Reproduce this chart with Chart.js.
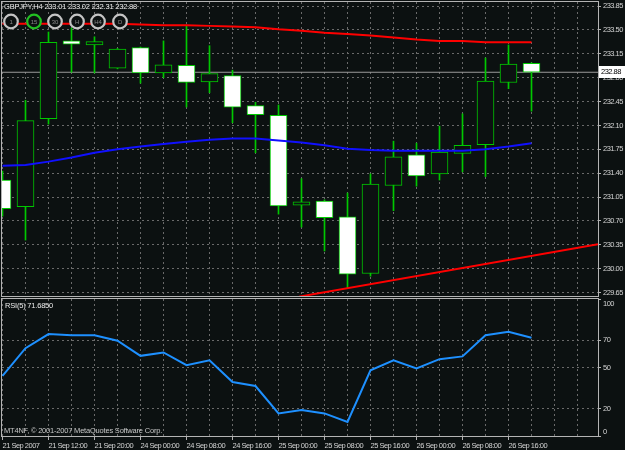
<!DOCTYPE html>
<html>
<head>
<meta charset="utf-8">
<title>GBPJPY,H4</title>
<script src="https://cdn.jsdelivr.net/npm/chart.js@4.4.1/dist/chart.umd.min.js"></script>
<style>
  body { margin: 0; background: #0c1111; width: 625px; height: 450px; overflow: hidden; position: relative; }
  canvas { position: absolute; left: 0; }
  #main { top: 0; }
  #rsi { top: 298px; }
</style>
</head>
<body>
<canvas id="main" width="625" height="298"></canvas>
<canvas id="rsi" width="625" height="152"></canvas>
<script>
const symbol = "GBPJPY,H4";

// H4 candles
const opens  = [231.30, 230.91, 232.20, 233.34, 233.28, 232.94, 233.24, 232.87, 232.98, 232.74, 232.83, 232.39,
                232.25, 230.93, 230.99, 230.76, 229.93, 231.22, 231.67, 231.39, 231.69, 231.82, 232.73, 233.01];
const highs  = [231.43, 232.47, 233.47, 233.53, 233.40, 233.23, 233.25, 233.34, 233.57, 233.27, 232.91, 232.44,
                232.40, 231.32, 231.01, 231.11, 231.39, 231.87, 231.84, 232.09, 232.27, 233.09, 233.28, 233.02];
const lows   = [230.77, 230.42, 232.12, 232.88, 232.87, 232.93, 232.72, 232.80, 232.37, 232.58, 232.14, 231.70,
                230.80, 230.61, 230.26, 229.72, 229.89, 230.85, 231.21, 231.30, 231.42, 231.35, 232.64, 232.31];
const closes = [230.88, 232.17, 233.32, 233.29, 233.33, 233.22, 232.87, 232.99, 232.73, 232.86, 232.37, 232.26,
                230.92, 230.98, 230.75, 229.92, 231.24, 231.64, 231.36, 231.71, 231.81, 232.75, 233.00, 232.88];

// moving averages
const maSlow = [233.59, 233.59, 233.59, 233.59, 233.59, 233.59, 233.58, 233.57, 233.57, 233.56, 233.55, 233.54,
                233.51, 233.49, 233.46, 233.44, 233.42, 233.39, 233.36, 233.34, 233.34, 233.32, 233.32, 233.32];
const maFast = [231.51, 231.52, 231.57, 231.63, 231.70, 231.75, 231.79, 231.83, 231.86, 231.89, 231.91, 231.91,
                231.88, 231.85, 231.81, 231.76, 231.74, 231.73, 231.73, 231.73, 231.73, 231.75, 231.79, 231.84];

// trend line (bar index, price)
const trendX = [12.89, 25.89];
const trendY = [229.59, 230.36];

const rsiValues = [43.9, 64.1, 74.4, 73.6, 73.6, 69.5, 58.5, 61.0, 51.7, 55.3, 39.4, 36.5,
                   16.5, 19.0, 16.5, 10.2, 48.0, 55.3, 49.3, 56.1, 58.1, 73.6, 76.1, 71.685];

const priceTicks = [229.65, 230.00, 230.35, 230.70, 231.05, 231.40, 231.75, 232.10, 232.45, 232.80, 233.15, 233.50, 233.85];
const rsiTicks = [0, 20, 50, 70, 100];
const timeLabels = ["21 Sep 2007", "21 Sep 12:00", "21 Sep 20:00", "24 Sep 00:00", "24 Sep 08:00", "24 Sep 16:00",
                    "25 Sep 00:00", "25 Sep 08:00", "25 Sep 16:00", "26 Sep 00:00", "26 Sep 08:00", "26 Sep 16:00"];
const periods = ["1", "15", "30", "H", "H4", "D"];

const BG = "#0c1111";
const GREEN = "#00c800";
const GRID = "#6a6a6a";
const FRAME = "#b4b4b4";
const TEXT = "#d4d4d4";
const FONT = "'Liberation Sans', Arial, sans-serif";
const X_MIN = -0.5 / 23;
const X_MAX = 595.5 / 23;

Chart.defaults.font.family = FONT;
Chart.defaults.font.size = 7.5;
Chart.defaults.color = TEXT;
Chart.defaults.animation = false;

const idx = opens.map((_, i) => i);
const last = opens.length - 1;
const gridIdx = idx.concat([24, 25]);

function frame(chart) {
  const a = chart.chartArea, ctx = chart.ctx;
  ctx.save();
  ctx.strokeStyle = FRAME;
  ctx.lineWidth = 1;
  ctx.strokeRect(a.left - 0.5, a.top - 0.5, a.right - a.left + 1, a.bottom - a.top + 1);
  ctx.restore();
}

// no extra room for labels hanging past the plot edges
function noPad(s) {
  s.paddingTop = 0;
  s.paddingBottom = 0;
  s.paddingLeft = 0;
  s.paddingRight = 0;
}

// MT4 text is tight, pull letters closer
const tightText = {
  id: "tightText",
  beforeDraw(chart) { chart.ctx.letterSpacing = "-0.5px"; }
};

const xScale = (showLabels) => ({
  type: "linear",
  min: X_MIN,
  max: X_MAX,
  offset: false,
  afterBuildTicks: s => { s.ticks = gridIdx.map(v => ({ value: v })); },
  ticks: {
    display: showLabels,
    autoSkip: false,
    maxRotation: 0,
    align: "start",
    padding: 1,
    color: TEXT,
    callback: v => (v % 2 === 0 && timeLabels[v / 2]) ? timeLabels[v / 2] : ""
  },
  grid: {
    offset: false,
    color: GRID,
    drawTicks: showLabels,
    tickLength: 4,
    tickColor: c => (c.tick && c.tick.value % 2 === 0 && timeLabels[c.tick.value / 2]) ? FRAME : "rgba(0,0,0,0)"
  },
  border: { display: false, dash: [2, 3] },
  afterFit: s => { s.height = showLabels ? 14 : 0; noPad(s); }
});

// main price chart
new Chart(document.getElementById("main"), {
  type: "bar",
  data: {
    datasets: [
      {
        label: "body",
        data: idx.map(i => ({ x: i, y: [opens[i], closes[i]] })),
        barThickness: 17,
        grouped: false,
        backgroundColor: idx.map(i => closes[i] < opens[i] ? "#ffffff" : BG),
        borderColor: GREEN,
        borderWidth: 1,
        borderSkipped: false,
        order: 1
      },
      {
        label: "wick",
        data: idx.map(i => ({ x: i, y: [lows[i], highs[i]] })),
        barThickness: 1,
        grouped: false,
        backgroundColor: GREEN,
        borderWidth: 0,
        order: 2
      },
      {
        type: "line",
        label: "MA slow",
        data: idx.map(i => ({ x: i, y: maSlow[i] })),
        borderColor: "#ff0000",
        borderWidth: 2,
        pointRadius: 0,
        order: 0
      },
      {
        type: "line",
        label: "MA fast",
        data: idx.map(i => ({ x: i, y: maFast[i] })),
        borderColor: "#1010ff",
        borderWidth: 2,
        pointRadius: 0,
        order: 0
      },
      {
        type: "line",
        label: "trend",
        data: trendX.map((x, k) => ({ x: x, y: trendY[k] })),
        borderColor: "#ff0000",
        borderWidth: 2,
        pointRadius: 0,
        order: 0
      },
      {
        type: "line",
        label: "bid",
        data: [{ x: X_MIN, y: closes[last] }, { x: X_MAX, y: closes[last] }],
        borderColor: "#9a9a9a",
        borderWidth: 1,
        pointRadius: 0,
        order: 3
      }
    ]
  },
  options: {
    responsive: false,
    layout: { padding: { left: 2, top: 2, right: 0, bottom: 2 } },
    plugins: { legend: { display: false }, tooltip: { enabled: false } },
    scales: {
      x: xScale(false),
      y: {
        position: "right",
        min: 229.60,
        max: 233.91,
        afterBuildTicks: s => { s.ticks = priceTicks.map(v => ({ value: v })); },
        ticks: { callback: v => v.toFixed(2), padding: 2, color: TEXT },
        grid: { color: GRID, tickLength: 3, tickColor: FRAME },
        border: { display: false, dash: [2, 3] },
        afterFit: s => { s.width = 27; noPad(s); }
      }
    }
  },
  plugins: [tightText, {
    id: "mainOverlay",
    afterDraw(chart) {
      const ctx = chart.ctx;
      frame(chart);
      ctx.save();
      ctx.letterSpacing = "-0.2px";
      ctx.font = "7.5px " + FONT;
      ctx.textBaseline = "middle";
      ctx.fillStyle = "#ececec";
      ctx.textAlign = "left";
      ctx.fillText(symbol + " " + opens[last].toFixed(2) + " " + highs[last].toFixed(2) + " " +
                   lows[last].toFixed(2) + " " + closes[last].toFixed(2), 4, 7);

      // period buttons
      const cx = [11, 34, 55, 77, 98, 120];
      periods.forEach((p, k) => {
        ctx.beginPath();
        ctx.arc(cx[k], 21.5, 6.8, 0, Math.PI * 2);
        ctx.fillStyle = BG;
        ctx.fill();
        ctx.lineWidth = 2.2;
        ctx.strokeStyle = k === 1 ? "#22c022" : "#c4c4c4";
        ctx.stroke();
        ctx.fillStyle = "#8a8a8a";
        ctx.font = "6px " + FONT;
        ctx.textAlign = "center";
        ctx.fillText(p, cx[k], 22);
      });

      // current price marker
      const y = chart.scales.y.getPixelForValue(closes[last]);
      ctx.letterSpacing = "-0.5px";
      ctx.fillStyle = "#ffffff";
      ctx.fillRect(599, Math.round(y) - 6, 26, 12);
      ctx.fillStyle = "#000000";
      ctx.font = "7.5px " + FONT;
      ctx.textAlign = "left";
      ctx.fillText(closes[last].toFixed(2), 601, Math.round(y));
      ctx.restore();
    }
  }]
});

// RSI panel
new Chart(document.getElementById("rsi"), {
  type: "line",
  data: {
    datasets: [{
      label: "RSI(5)",
      data: idx.map(i => ({ x: i, y: rsiValues[i] })),
      borderColor: "#1e90ff",
      borderWidth: 2,
      pointRadius: 0,
      tension: 0
    }]
  },
  options: {
    responsive: false,
    layout: { padding: { left: 2, top: 1, right: 0, bottom: 0 } },
    plugins: { legend: { display: false }, tooltip: { enabled: false } },
    scales: {
      x: xScale(true),
      y: {
        position: "right",
        min: 0,
        max: 100,
        afterBuildTicks: s => { s.ticks = rsiTicks.map(v => ({ value: v })); },
        ticks: {
          padding: 2,
          color: TEXT,
          callback: v => v === 100 ? ["", "100"] : (v === 0 ? ["0", ""] : String(v))
        },
        grid: {
          color: c => (c.tick && (c.tick.value === 0 || c.tick.value === 100)) ? "rgba(0,0,0,0)" : GRID,
          tickLength: 3,
          tickColor: FRAME
        },
        border: { display: false, dash: [2, 3] },
        afterFit: s => { s.width = 27; noPad(s); }
      }
    }
  },
  plugins: [tightText, {
    id: "rsiOverlay",
    afterDraw(chart) {
      const ctx = chart.ctx;
      frame(chart);
      ctx.save();
      ctx.letterSpacing = "-0.2px";
      ctx.font = "7.5px " + FONT;
      ctx.textBaseline = "middle";
      ctx.textAlign = "left";
      ctx.fillStyle = "#ececec";
      ctx.fillText("RSI(5) " + rsiValues[last].toFixed(4), 5, 8);
      ctx.fillStyle = "#c8c8c8";
      ctx.fillText("MT4NF, \u00a9 2001-2007 MetaQuotes Software Corp.", 4, 133);
      ctx.restore();
    }
  }]
});
</script>
</body>
</html>
